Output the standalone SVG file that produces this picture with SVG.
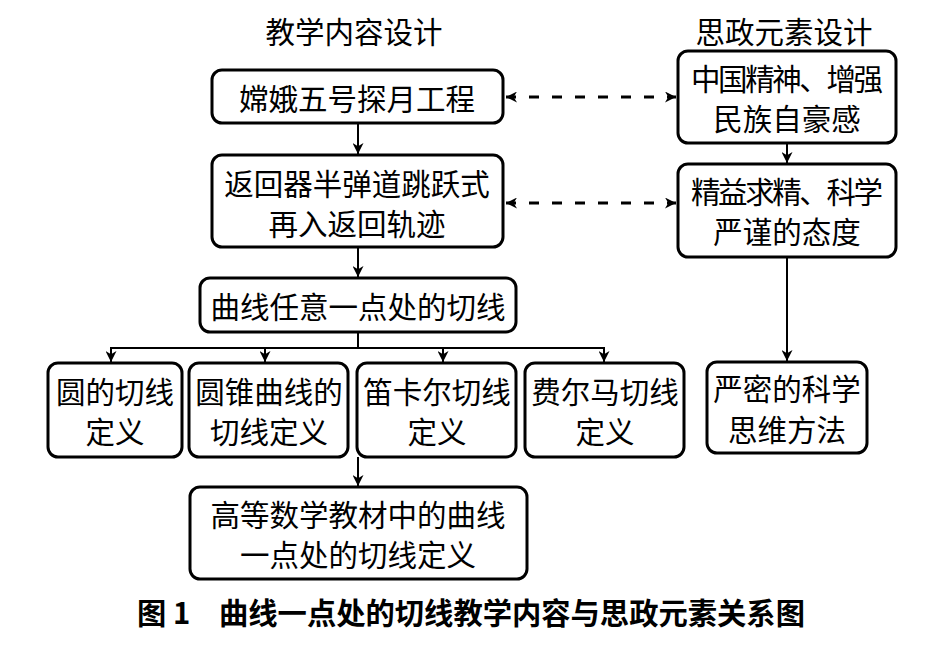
<svg xmlns="http://www.w3.org/2000/svg" width="927" height="663" viewBox="0 0 927 663">
<style>
.box{fill:#fff;stroke:#000;stroke-width:3}
.t{font-family:"Noto Sans CJK SC","Noto Sans CJK JP",sans-serif;font-size:29.5px;fill:#000;text-anchor:middle;dominant-baseline:central}
.cap{font-family:"Noto Sans CJK SC","Noto Sans CJK JP",sans-serif;font-size:29.3px;font-weight:bold;fill:#000;dominant-baseline:central}
.ln{fill:none;stroke:#000;stroke-width:2}
.dash{fill:none;stroke:#000;stroke-width:3;stroke-dasharray:10 13}
</style>
<defs>
<marker id="ah" markerUnits="userSpaceOnUse" viewBox="0 0 10 10" refX="10" refY="5" markerWidth="11" markerHeight="11" orient="auto-start-reverse">
<path d="M0,0 L10,5 L0,10 L3,5 Z" fill="#000"/>
</marker>
</defs>
<rect width="927" height="663" fill="#fff"/>
<text class="t" x="354" y="30">教学内容设计</text>
<text class="t" x="784" y="30">思政元素设计</text>
<g id="connectors">
<line class="ln" x1="358" y1="123" x2="358" y2="154" marker-end="url(#ah)"/>
<line class="ln" x1="358" y1="247" x2="358" y2="277" marker-end="url(#ah)"/>
<polyline class="ln" points="358,332 358,348"/>
<line class="ln" x1="110" y1="348" x2="605" y2="348"/>
<line class="ln" x1="111" y1="348" x2="111" y2="362" marker-end="url(#ah)"/>
<line class="ln" x1="265" y1="348" x2="265" y2="362" marker-end="url(#ah)"/>
<line class="ln" x1="443" y1="348" x2="443" y2="362" marker-end="url(#ah)"/>
<line class="ln" x1="604" y1="348" x2="604" y2="362" marker-end="url(#ah)"/>
<line class="ln" x1="358" y1="457" x2="358" y2="486" marker-end="url(#ah)"/>
<line class="ln" x1="787" y1="143" x2="787" y2="163" marker-end="url(#ah)"/>
<line class="ln" x1="787" y1="257" x2="787" y2="361" marker-end="url(#ah)"/>
<line class="dash" x1="506" y1="97" x2="676" y2="97" marker-start="url(#ah)" marker-end="url(#ah)"/>
<line class="dash" x1="506" y1="203" x2="676" y2="203" marker-start="url(#ah)" marker-end="url(#ah)"/>
</g>
<g id="n1"><rect class="box" x="212" y="70" width="291" height="53" rx="10"/><text class="t" x="357" y="97">嫦娥五号探月工程</text></g>
<g id="n2"><rect class="box" x="212" y="155" width="291" height="92" rx="10"/><text class="t" x="357" y="182">返回器半弹道跳跃式</text><text class="t" x="357" y="222">再入返回轨迹</text></g>
<g id="n3"><rect class="box" x="200" y="278" width="316" height="54" rx="10"/><text class="t" x="358" y="305">曲线任意一点处的切线</text></g>
<g id="n4"><rect class="box" x="48" y="363" width="134" height="94" rx="10"/><text class="t" x="115" y="390">圆的切线</text><text class="t" x="115" y="430">定义</text></g>
<g id="n5"><rect class="box" x="189" y="363" width="159" height="94" rx="10"/><text class="t" x="269" y="390">圆锥曲线的</text><text class="t" x="269" y="430">切线定义</text></g>
<g id="n6"><rect class="box" x="357" y="363" width="159" height="94" rx="10"/><text class="t" x="437" y="390">笛卡尔切线</text><text class="t" x="437" y="430">定义</text></g>
<g id="n7"><rect class="box" x="525" y="363" width="159" height="94" rx="10"/><text class="t" x="605" y="390">费尔马切线</text><text class="t" x="605" y="430">定义</text></g>
<g id="n8"><rect class="box" x="190" y="487" width="337" height="92" rx="10"/><text class="t" x="358" y="513">高等数学教材中的曲线</text><text class="t" x="358" y="553">一点处的切线定义</text></g>
<g id="r1"><rect class="box" x="678" y="51" width="218" height="92" rx="10"/><text class="t" x="787" y="77" textLength="192" lengthAdjust="spacing">中国精神、增强</text><text class="t" x="787" y="117">民族自豪感</text></g>
<g id="r2"><rect class="box" x="678" y="164" width="218" height="93" rx="10"/><text class="t" x="787" y="190" textLength="192" lengthAdjust="spacing">精益求精、科学</text><text class="t" x="787" y="230">严谨的态度</text></g>
<g id="r3"><rect class="box" x="707" y="362" width="160" height="91" rx="10"/><text class="t" x="787" y="387">严密的科学</text><text class="t" x="787" y="428">思维方法</text></g>
<text class="cap" x="137" y="611">图 1</text>
<text class="cap" x="219" y="611">曲线一点处的切线教学内容与思政元素关系图</text>
</svg>
